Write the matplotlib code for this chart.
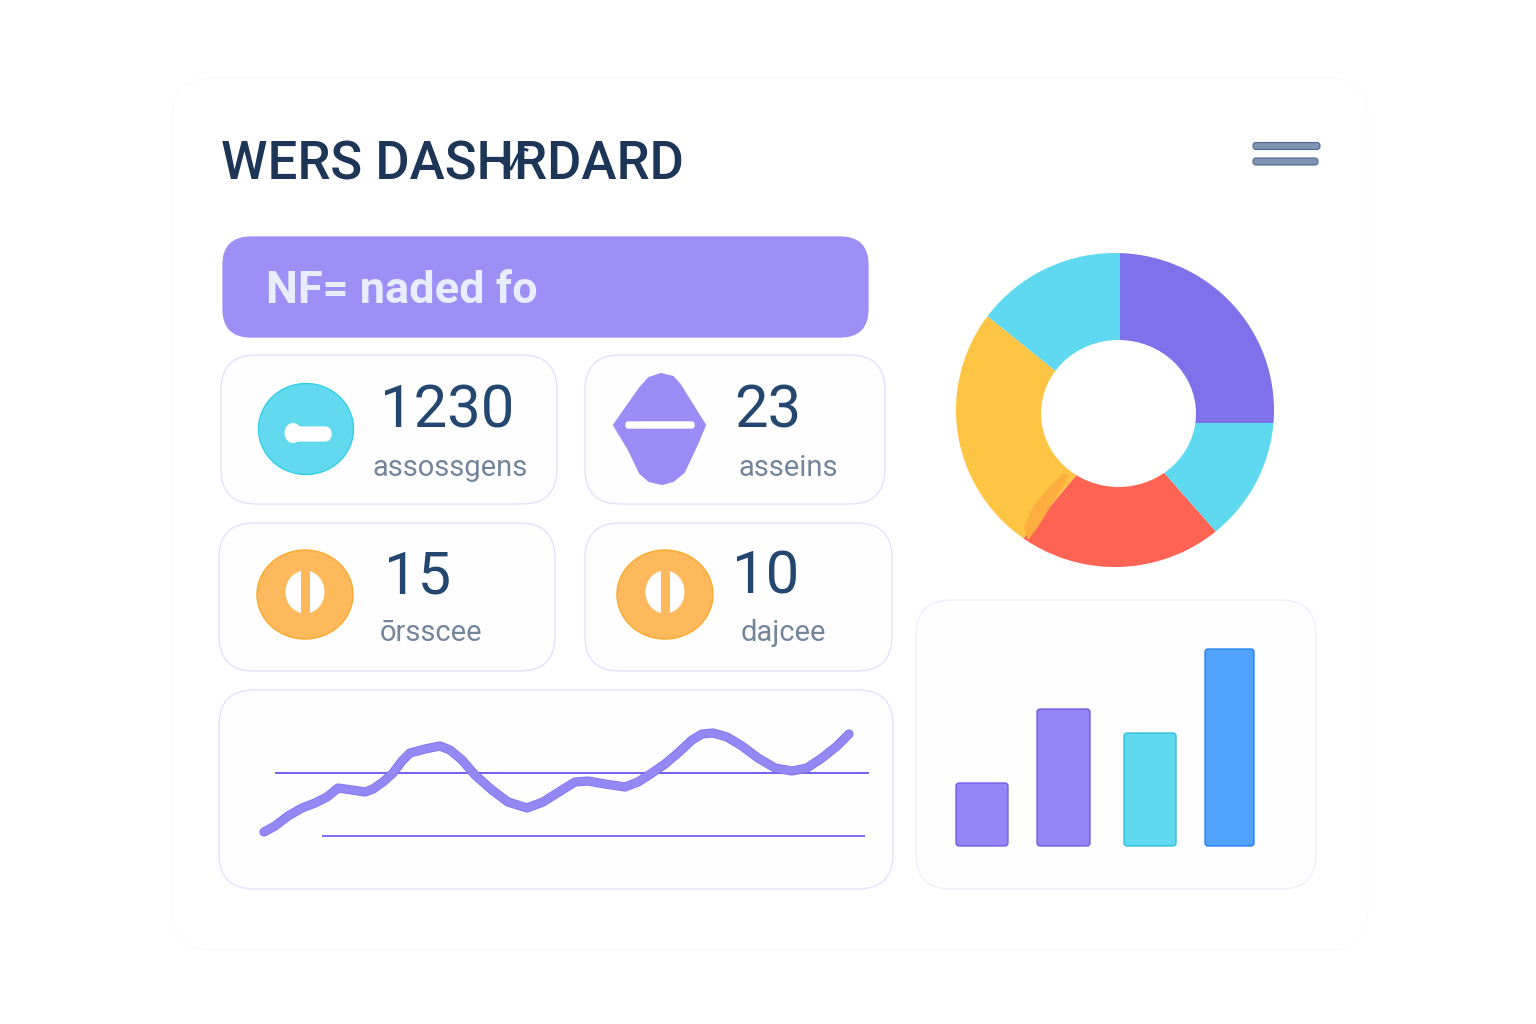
import matplotlib
matplotlib.use("Agg")
import matplotlib.pyplot as plt
from matplotlib.patches import FancyBboxPatch, Ellipse, Polygon

W, H = 1536, 1024

# Donut shares, clockwise from 12 o'clock
donut_values = [25, 13.5, 22.6, 24.7, 14.2]
donut_colors = ["#7f71ea", "#5fd9f0", "#fe6353", "#fec444", "#5fd9f0"]

# Bar chart
bar_values = [63, 137, 113, 197]
bar_colors = ["#9484f7", "#9484f7", "#5fd9f0", "#52a3fd"]
bar_edges = ["#6a55e0", "#6a55e0", "#22bcd8", "#1a78f0"]
bar_centers = [982, 1063.5, 1150, 1229.5]
bar_widths = [52, 53, 52, 49]

# Line chart
line_x = [264, 275, 288, 302, 315, 327, 338, 352, 365, 373, 383, 393, 402, 410, 425, 440, 450,
          462, 475, 492, 508, 527, 543, 562, 575, 588, 605, 625, 638, 652, 665, 678, 692, 702,
          713, 727, 742, 758, 775, 792, 807, 822, 837, 849]
line_y = [4, 10, 20, 28, 33, 39, 48, 46, 44, 47, 54, 63, 75, 83, 87, 90, 86,
          76, 61, 46, 34, 28, 34, 46, 54, 55, 52, 49, 54, 63, 72, 83, 96, 102,
          103, 99, 90, 78, 68, 65, 68, 78, 90, 102]
ref_levels = [63, 0]

# Stat cards
stat_values = ["1230", "23", "15", "10"]
stat_labels = ["assossgens", "asseins", "\u014drsscee", "dajcee"]

title = "WERS DASHRDARD"
banner = "NF= naded fo"

plt.rcParams["font.family"] = ["Roboto", "DejaVu Sans"]

fig = plt.figure(figsize=(W / 100, H / 100), dpi=100, facecolor="white")
bg = fig.add_axes([0, 0, 1, 1])
bg.set_xlim(0, W)
bg.set_ylim(H, 0)
bg.axis("off")


def card(x0, y0, x1, y1, r=35, fc="#fefeff", ec="#e2dffa", lw=0.9, z=1):
    bg.add_patch(FancyBboxPatch((x0 + r, y0 + r), x1 - x0 - 2 * r, y1 - y0 - 2 * r,
                                boxstyle=f"round,pad={r},rounding_size={r}",
                                fc=fc, ec=ec, lw=lw, zorder=z))


def inset(x0, y0, x1, y1):
    ax = fig.add_axes([x0 / W, 1 - y1 / H, (x1 - x0) / W, (y1 - y0) / H])
    ax.axis("off")
    return ax


# Page panel
card(172, 78, 1368, 950, r=40, fc="white", ec="#fbfbfd", z=0)
bg.text(221, 180, title, fontsize=38, color="#1d3557", va="baseline", ha="left", weight="medium")
bg.plot([502, 511, 518, 523, 527], [162, 169, 155, 149, 150], color="#1d3557", lw=2, zorder=3)

# Menu icon
card(1253, 142.5, 1320, 149.5, r=3, fc="#7f93b2", ec="#4f6a94", lw=0.8)
card(1253, 158, 1318, 165, r=3, fc="#7f93b2", ec="#4f6a94", lw=0.8)

# Banner
card(223, 237, 868, 337, r=28, fc="#9d8ff5", ec="#9d8ff5")
bg.text(266, 303, banner, fontsize=32.5, color="#e8eeff", va="baseline", ha="left", weight="bold")

# Cards
card(221, 355, 557, 504)
card(585, 355, 885, 504)
card(219, 523, 555, 671)
card(585, 523, 892, 671)
card(219, 690, 893, 889)
card(916, 600, 1316, 889, ec="#eeecfc")

# Icons
bg.add_patch(Ellipse((306, 429), 95, 91, fc="#62d9ee", ec="#35cfe6", lw=1, zorder=2))
card(288, 427, 331, 441, r=6.5, fc="white", ec="white", z=3)
bg.add_patch(Ellipse((293, 433), 17, 20, fc="white", ec="none", zorder=3))
bg.add_patch(Polygon([(661, 374), (673, 377), (680, 385), (705, 425), (698, 442), (684, 472),
                      (673, 481), (662, 484), (649, 481), (640, 473), (629, 450), (614, 425),
                      (640, 388), (649, 378)],
                     closed=True, fc="#9b8cf5", ec="#9b8cf5", lw=1.5, joinstyle="round", zorder=2))
card(625, 421, 695, 429, r=3.5, fc="white", ec="#8f80f2", lw=0.4, z=3)
for cx in (305, 665):
    bg.add_patch(Ellipse((cx, 594.5), 96, 89, fc="#fdb95c", ec="#f9ab2e", lw=1, zorder=2))
    bg.add_patch(Ellipse((cx, 592), 39, 43, fc="white", ec="none", zorder=3))
    bg.fill_between([cx - 4.5, cx + 5], 568, 616, color="#fdb95c", zorder=4, lw=0)

# Stat numbers and labels
num_pos = [(380, 428), (734, 428), (384, 594), (732, 594)]
lab_pos = [(373, 476), (738, 476), (380, 641), (741, 641)]
for val, lab, np_, lp in zip(stat_values, stat_labels, num_pos, lab_pos):
    bg.text(np_[0], np_[1], val, fontsize=43, color="#24476f", va="baseline", ha="left")
    bg.text(lp[0], lp[1], lab, fontsize=21, color="#73859b", va="baseline", ha="left")

# Line chart
ax_line = inset(219, 690, 893, 889)
ax_line.set_xlim(219, 893)
ax_line.set_ylim(-53, 146)
ax_line.hlines(ref_levels[0], 275, 869, color="#4a35e8", lw=1.1)
ax_line.hlines(ref_levels[1], 322, 865, color="#5a46e8", lw=1.1)
ax_line.plot(line_x, line_y, color="#7b6cf0", lw=6.6, solid_capstyle="round", solid_joinstyle="round")
ax_line.plot(line_x, line_y, color="#9488f5", lw=5.6, solid_capstyle="round", solid_joinstyle="round")

# Donut: the wedges meet off-centre, so they are clipped to the outer ring
ax_pie = inset(0, 0, W, H)
wedges, _ = ax_pie.pie(donut_values, colors=donut_colors, startangle=90, counterclock=False,
                       radius=230, center=(1120, H - 423), wedgeprops=dict(linewidth=0))
ax_pie.set_aspect("auto")
ax_pie.set_xlim(0, W)
ax_pie.set_ylim(0, H)
ring = Ellipse((1115, H - 410), 318, 314, transform=ax_pie.transData)
for w in wedges:
    w.set_clip_on(True)
    w.set_clip_path(ring)
smear = Polygon([(1063, H - 473), (1069, H - 476), (1038, H - 527), (1028, H - 540), (1024, H - 527),
                 (1033, H - 507), (1047, H - 490)], closed=True, fc="#feae3e", ec="none", zorder=3)
ax_pie.add_patch(smear)
ax_pie.add_patch(Ellipse((1118.5, H - 413.5), 155, 147, fc="white", ec="none", zorder=4))

# Bars
ax_bar = inset(916, 600, 1316, 889)
ax_bar.set_xlim(916, 1316)
ax_bar.set_ylim(-43, 246)
bars = ax_bar.bar(bar_centers, bar_values, width=bar_widths, color=bar_colors)
for b, ec in zip(bars, bar_edges):
    ax_bar.add_patch(FancyBboxPatch(b.get_xy(), b.get_width(), b.get_height(),
                                    boxstyle="round,pad=0,rounding_size=3",
                                    fc=b.get_facecolor(), ec=ec, lw=0.9))
    b.set_visible(False)

fig.savefig("out.png", dpi=100)
